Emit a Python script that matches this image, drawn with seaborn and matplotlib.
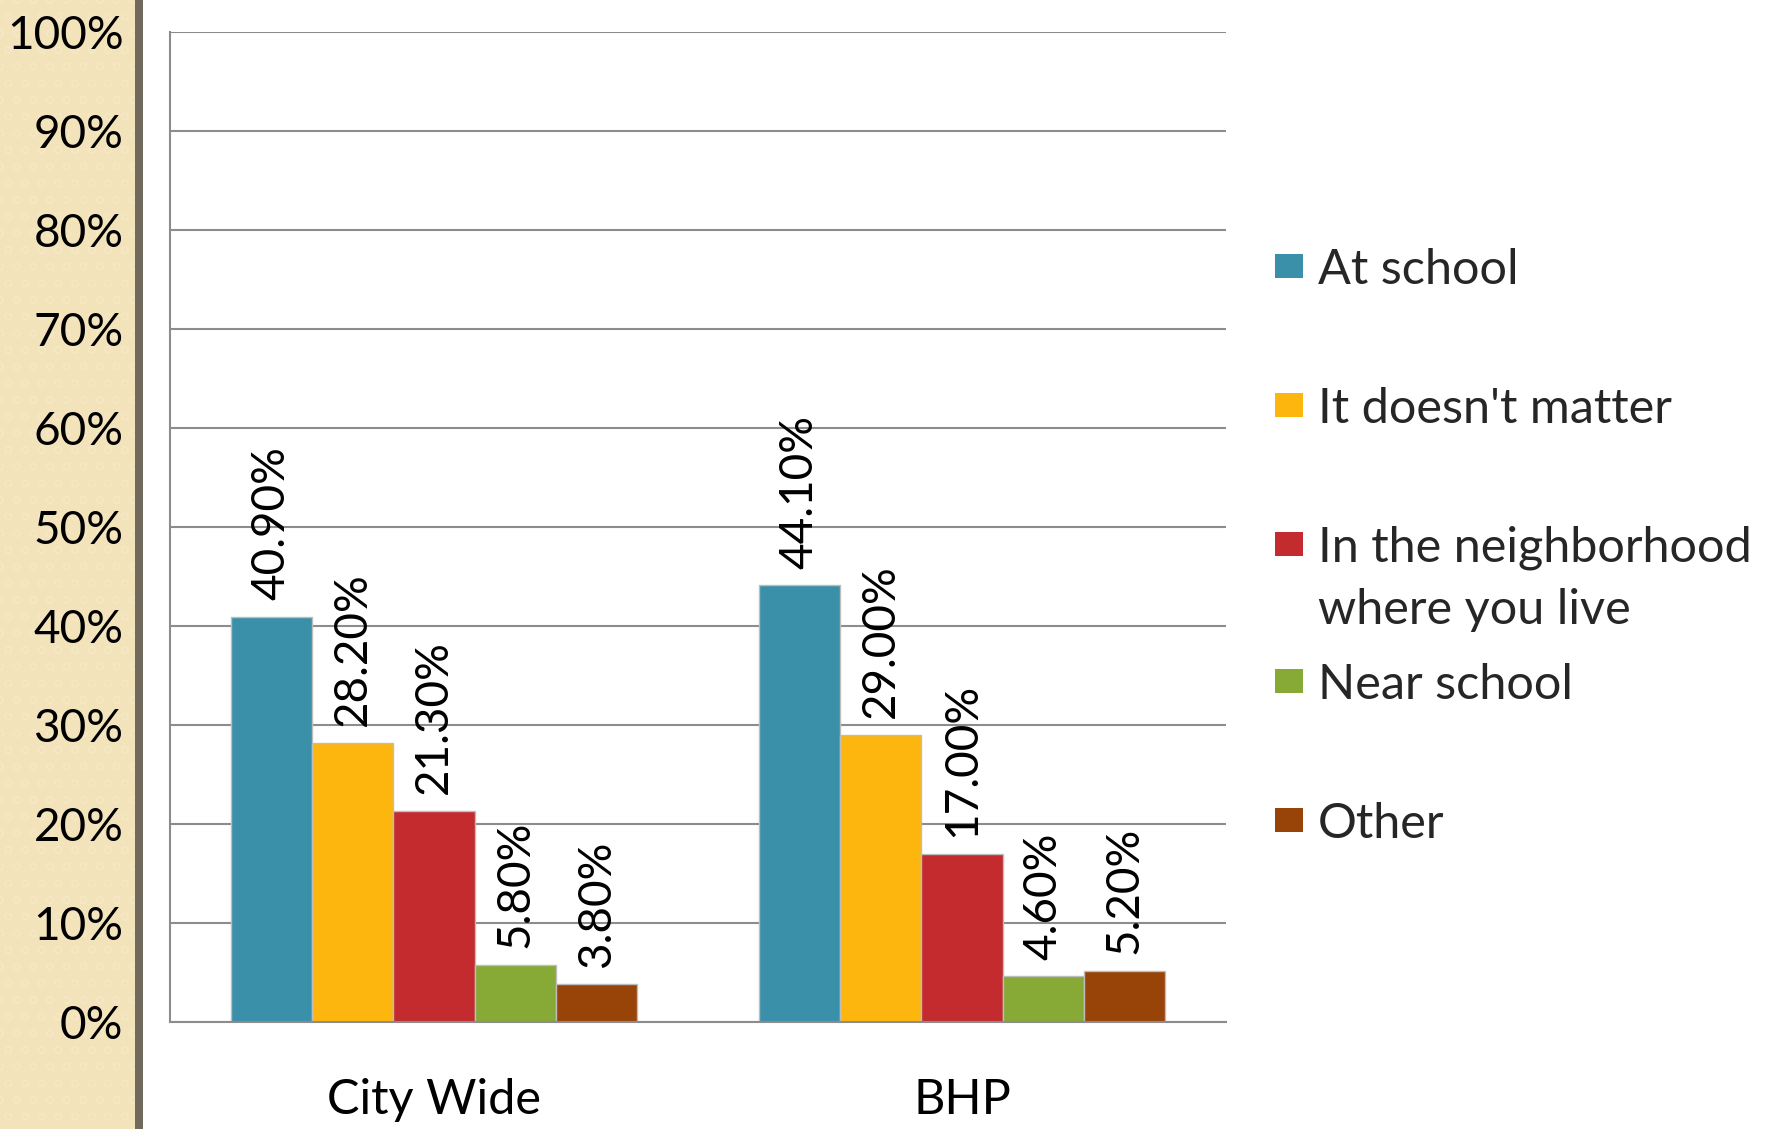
import matplotlib
matplotlib.use("Agg")
import matplotlib.pyplot as plt
from matplotlib.patches import Rectangle
from matplotlib.ticker import FuncFormatter, MultipleLocator
import seaborn as sns
import pandas as pd

# ---- data ----
areas = ["City Wide", "BHP"]
responses = ["At school", "It doesn't matter", "In the neighborhood\nwhere you live",
             "Near school", "Other"]
city_wide = [40.9, 28.2, 21.3, 5.8, 3.8]
bhp = [44.1, 29.0, 17.0, 4.6, 5.2]
colors = ["#3A90A9", "#FDB60D", "#C32B2F", "#86AA35", "#984408"]

rows = []
for area, vals in zip(areas, [city_wide, bhp]):
    for r, v in zip(responses, vals):
        rows.append({"area": area, "response": r, "value": v})
df = pd.DataFrame(rows)

sns.set_style("white")
FONT = ["Lato", "DejaVu Sans"]
plt.rcParams["font.family"] = FONT

W, H = 1769, 1129
fig = plt.figure(figsize=(W / 100, H / 100), dpi=100)
fig.patch.set_facecolor("white")

# beige side strip and dark divider (drawn beneath the axes)
fig.patches.append(Rectangle((0, 0), 135 / W, 1, transform=fig.transFigure,
                             facecolor="#F3E3BB", edgecolor="#F5E7C4", hatch="o",
                             linewidth=0, zorder=-2))
fig.patches.append(Rectangle((135 / W, 0), 8 / W, 1, transform=fig.transFigure,
                             facecolor="#6F6A5C", edgecolor="none", zorder=-2))

ax = fig.add_axes([170 / W, (H - 1022) / H, (1226 - 170) / W, (1022 - 32) / H])
ax.set_facecolor("none")
ax.set_zorder(1)

sns.barplot(data=df, x="area", y="value", hue="response", hue_order=responses,
            order=areas, palette=colors, width=0.77, edgecolor="#BDBDBD",
            linewidth=1.0, saturation=1, legend=False, ax=ax)

for cont in ax.containers:
    ax.bar_label(cont, labels=[f"{b.get_height():.2f}%" for b in cont],
                 rotation=90, padding=12, fontsize=33, color="black")

ax.set_ylim(0, 100)
ax.set_xlim(-0.5, 1.5)
ax.yaxis.set_major_locator(MultipleLocator(10))
ax.yaxis.set_major_formatter(FuncFormatter(lambda v, p: f"{v:.0f}%"))
ax.grid(axis="y", color="#8C8C8C", linewidth=1.5)
ax.set_axisbelow(True)
ax.tick_params(axis="y", length=0, pad=33.5, labelsize=33, labelcolor="black")
ax.tick_params(axis="x", length=0, pad=40, labelsize=35, labelcolor="black")
ax.set_xlabel("")
ax.set_ylabel("")
for s in ["top", "right"]:
    ax.spines[s].set_visible(False)
for s in ["left", "bottom"]:
    ax.spines[s].set_color("#8C8C8C")
    ax.spines[s].set_linewidth(1.5)

# legend (first lines evenly spaced, handle aligned with first line)
first_line_y = [266, 405, 544, 681, 820]
for lab, col, yc in zip(responses, colors, first_line_y):
    fig.patches.append(Rectangle((1275 / W, (H - yc - 12) / H), 28 / W, 24 / H,
                                 transform=fig.transFigure, facecolor=col,
                                 edgecolor="none"))
    parts = lab.split("\n")
    for i, part in enumerate(parts):
        fig.text(1318 / W, (H - yc - 62 * i) / H, part, fontsize=35,
                 va="center_baseline", ha="left")

fig.savefig("out.png", dpi=100)
